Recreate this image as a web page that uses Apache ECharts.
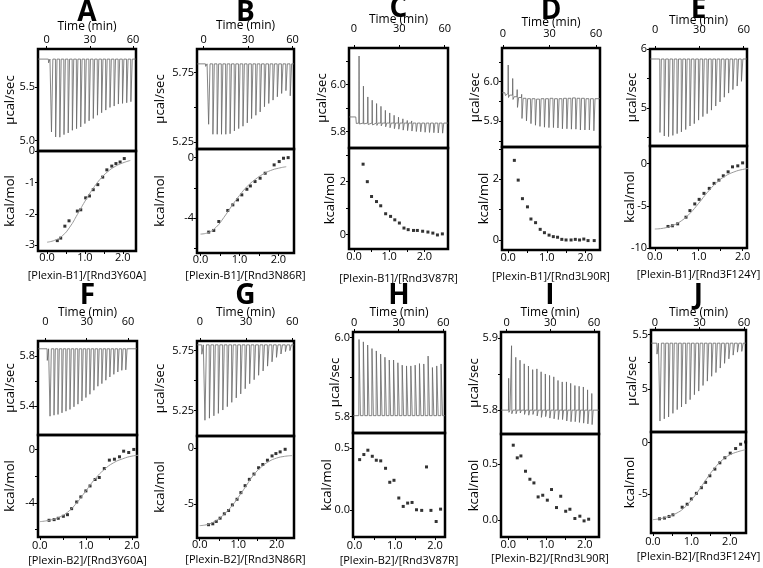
<!DOCTYPE html>
<html>
<head>
<meta charset="utf-8">
<script src="https://cdn.jsdelivr.net/npm/echarts@6/dist/echarts.min.js"></script>
<style>
html, body { margin: 0; padding: 0; background: #fff; }
#chart { width: 763px; height: 568px; }
</style>
</head>
<body>
<div id="chart"></div>
<script>
// ---- data ----
var letters = ['A', 'B', 'C', 'D', 'E', 'F', 'G', 'H', 'I', 'J'];
var ratioNames = ['[Plexin-B1]/[Rnd3Y60A]', '[Plexin-B1]/[Rnd3N86R]', '[Plexin-B1]/[Rnd3V87R]',
    '[Plexin-B1]/[Rnd3L90R]', '[Plexin-B1]/[Rnd3F124Y]', '[Plexin-B2]/[Rnd3Y60A]',
    '[Plexin-B2]/[Rnd3N86R]', '[Plexin-B2]/[Rnd3V87R]', '[Plexin-B2]/[Rnd3L90R]', '[Plexin-B2]/[Rnd3F124Y]'];
var timeTicks = ['0', '30', '60'];
var ratioTicks = ['0.0', '1.0', '2.0'];
var ratioMinor = [0, 0.5, 1, 1.5, 2];

// injection times (min)
var injTimes = [1.2, 3.2, 6.1, 9.0, 11.9, 14.8, 17.7, 20.6, 23.5, 26.4, 29.3, 32.2, 35.1, 38.0, 40.9, 43.8, 46.7, 49.6, 52.5, 55.4, 58.3];

// raw heat traces (ucal/sec): baseline and spike extremes per injection
var aBase = 5.765;
var aPeak = [5.73, 5.079, 5.032, 5.03, 5.054, 5.07, 5.095, 5.11, 5.127, 5.158, 5.184, 5.206, 5.237, 5.26, 5.285, 5.31, 5.323, 5.342, 5.348, 5.354, 5.364];
var bBase = 5.813;
var bPeak = [5.795, 5.378, 5.306, 5.306, 5.306, 5.306, 5.31, 5.33, 5.347, 5.364, 5.388, 5.419, 5.443, 5.467, 5.504, 5.528, 5.552, 5.576, 5.6, 5.62, 5.583];
var cStart = 5.862;
var cBase = 5.836;
var cUp = [5.86, 6.121, 5.993, 5.947, 5.933, 5.919, 5.907, 5.89, 5.879, 5.869, 5.861, 5.854, 5.847, 5.845, 5.843, 5.842, 5.841, 5.84, 5.84, 5.839, 5.839];
var cDown = [5.834, 5.832, 5.832, 5.83, 5.828, 5.826, 5.824, 5.82, 5.816, 5.812, 5.81, 5.806, 5.804, 5.802, 5.8, 5.799, 5.797, 5.796, 5.795, 5.794, 5.793];
var dStart = 5.972;
var dBase = [5.97, 5.966, 5.962, 5.96, 5.958, 5.957, 5.957, 5.956, 5.957, 5.957, 5.958, 5.957, 5.957, 5.958, 5.958, 5.959, 5.958, 5.958, 5.957, 5.957, 5.957];
var dUp = [5.972, 6.042, 6.008, 5.98, 5.968, 5.962, 5.96, 5.958, 5.958, 5.958, 5.96, 5.96, 5.958, 5.96, 5.961, 5.962, 5.96, 5.96, 5.96, 5.959, 5.958];
var dDown = [5.965, 5.96, 5.955, 5.935, 5.907, 5.901, 5.894, 5.89, 5.887, 5.885, 5.884, 5.884, 5.883, 5.881, 5.881, 5.88, 5.88, 5.878, 5.878, 5.878, 5.876];
var eBase = 5.83;
var ePeak = [5.80, 4.58, 4.52, 4.51, 4.53, 4.56, 4.59, 4.63, 4.69, 4.73, 4.79, 4.85, 4.90, 4.96, 5.03, 5.10, 5.18, 5.25, 5.31, 5.37, 5.45];
var fBase = 5.858;
var fPeak = [5.765, 5.32, 5.328, 5.334, 5.347, 5.36, 5.374, 5.395, 5.416, 5.442, 5.469, 5.495, 5.527, 5.559, 5.58, 5.607, 5.633, 5.654, 5.673, 5.686, 5.69];
var gBase = 5.798;
var gPeak = [5.72, 5.171, 5.188, 5.208, 5.228, 5.256, 5.284, 5.32, 5.357, 5.39, 5.433, 5.475, 5.508, 5.545, 5.581, 5.621, 5.657, 5.694, 5.722, 5.742, 5.75];
var hBase = 5.802;
var hUp = [5.805, 5.995, 5.989, 5.981, 5.972, 5.966, 5.958, 5.95, 5.943, 5.943, 5.936, 5.93, 5.928, 5.928, 5.93, 5.934, 5.933, 5.953, 5.924, 5.928, 5.933];
var iBase = 5.8;
var iUp = [5.844, 5.889, 5.873, 5.869, 5.864, 5.861, 5.856, 5.857, 5.853, 5.85, 5.848, 5.846, 5.841, 5.839, 5.839, 5.837, 5.834, 5.833, 5.832, 5.828, 5.823];
var iDown = [5.797, 5.795, 5.795, 5.796, 5.794, 5.793, 5.794, 5.792, 5.79, 5.791, 5.789, 5.788, 5.787, 5.787, 5.785, 5.784, 5.784, 5.783, 5.782, 5.781, 5.78];
var jBase = 5.42;
var jPeak = [5.32, 4.71, 4.73, 4.747, 4.78, 4.814, 4.838, 4.865, 4.905, 4.95, 4.983, 5.034, 5.074, 5.118, 5.152, 5.193, 5.236, 5.277, 5.311, 5.338, 5.345];

// integrated heats (kcal/mol) vs molar ratio
var aX = [0.27, 0.36, 0.47, 0.58, 0.80, 0.89, 1.02, 1.12, 1.22, 1.34, 1.47, 1.58, 1.71, 1.82, 1.93, 2.04];
var aY = [-2.85, -2.77, -2.39, -2.22, -1.91, -1.87, -1.49, -1.43, -1.23, -1.07, -0.83, -0.60, -0.48, -0.40, -0.35, -0.24];
var bX = [0.21, 0.34, 0.47, 0.70, 0.83, 0.95, 1.06, 1.19, 1.28, 1.40, 1.53, 1.66, 1.89, 2.02, 2.13, 2.25];
var bY = [-4.92, -4.81, -4.22, -3.49, -3.12, -2.79, -2.46, -2.09, -1.87, -1.58, -1.36, -1.03, -0.48, -0.26, -0.04, 0.0];
var cX = [0.26, 0.38, 0.50, 0.64, 0.76, 0.90, 1.04, 1.16, 1.29, 1.42, 1.54, 1.69, 1.80, 1.95, 2.10, 2.24, 2.37, 2.51];
var cY = [2.66, 2.0, 1.44, 1.25, 1.09, 0.79, 0.69, 0.56, 0.44, 0.25, 0.19, 0.16, 0.16, 0.13, 0.10, 0.06, -0.01, 0.03];
var dX = [0.16, 0.26, 0.37, 0.50, 0.59, 0.71, 0.83, 0.94, 1.06, 1.17, 1.28, 1.39, 1.50, 1.63, 1.74, 1.85, 1.96, 2.07, 2.23];
var dY = [2.62, 1.97, 1.36, 1.09, 0.69, 0.57, 0.35, 0.24, 0.16, 0.11, 0.09, 0.02, 0.0, 0.0, 0.02, 0.0, 0.03, -0.02, -0.02];
var eX = [0.30, 0.40, 0.52, 0.71, 0.80, 0.91, 1.01, 1.12, 1.24, 1.35, 1.46, 1.56, 1.67, 1.77, 1.89, 2.00];
var eY = [-7.45, -7.37, -7.14, -6.35, -5.57, -4.78, -4.24, -3.53, -2.94, -2.35, -1.96, -1.45, -0.98, -0.39, -0.27, 0.08];
var fX = [0.20, 0.31, 0.40, 0.51, 0.60, 0.69, 0.80, 0.89, 1.00, 1.09, 1.20, 1.29, 1.40, 1.51, 1.62, 1.73, 1.82, 1.93, 2.04];
var fY = [-5.30, -5.25, -5.15, -5.0, -4.88, -4.43, -3.93, -3.55, -3.10, -2.73, -2.25, -2.10, -1.43, -0.80, -0.73, -0.55, -0.13, -0.23, 0.0];
var gX = [0.23, 0.34, 0.43, 0.53, 0.64, 0.75, 0.85, 0.97, 1.07, 1.18, 1.29, 1.41, 1.53, 1.64, 1.76, 1.88, 1.98, 2.09, 2.22];
var gY = [-6.82, -6.74, -6.53, -6.24, -5.85, -5.56, -5.06, -4.56, -3.97, -3.35, -2.79, -2.32, -1.76, -1.47, -1.09, -0.71, -0.5, -0.35, -0.12];
var hX = [0.125, 0.23, 0.33, 0.44, 0.54, 0.65, 0.77, 0.875, 0.98, 1.10, 1.21, 1.32, 1.43, 1.54, 1.67, 1.79, 1.90, 2.03, 2.14];
var hY = [0.405, 0.446, 0.481, 0.432, 0.40, 0.395, 0.335, 0.222, 0.238, 0.095, 0.027, 0.054, 0.059, 0.0, -0.005, 0.346, -0.005, -0.095, 0.005];
var iX = [0.13, 0.235, 0.33, 0.45, 0.565, 0.67, 0.78, 0.90, 1.02, 1.13, 1.26, 1.37, 1.50, 1.61, 1.74, 1.87, 1.98, 2.10];
var iY = [0.67, 0.557, 0.574, 0.4375, 0.366, 0.333, 0.208, 0.223, 0.179, 0.274, 0.113, 0.214, 0.08, 0.098, 0.015, 0.036, -0.006, 0.009];
var jX = [0.17, 0.30, 0.42, 0.52, 0.76, 0.89, 1.00, 1.13, 1.26, 1.37, 1.48, 1.61, 1.74, 1.87, 2.01, 2.15, 2.28, 2.41];
var jY = [-7.42, -7.35, -7.19, -7.03, -6.29, -6.0, -5.48, -4.94, -4.39, -3.87, -3.23, -2.58, -1.97, -1.48, -1.03, -0.58, -0.16, 0.06];

// fitted binding curves
var fitX = [0.0, 0.2, 0.4, 0.6, 0.8, 1.0, 1.2, 1.4, 1.6, 1.8, 2.0, 2.2, 2.4];
var aFit = [-2.9, -2.84, -2.7, -2.42, -2.02, -1.6, -1.22, -0.9, -0.66, -0.49, -0.38, -0.3];
var bFit = [-5.05, -4.95, -4.6, -3.95, -3.2, -2.5, -1.9, -1.45, -1.1, -0.85, -0.7, -0.6];
var eFit = [-7.75, -7.65, -7.35, -6.8, -5.9, -4.7, -3.4, -2.3, -1.5, -1.0, -0.7, -0.55];
var fFit = [-5.4, -5.3, -5.1, -4.7, -4.0, -3.1, -2.2, -1.5, -1.0, -0.7, -0.5, -0.42];
var gFit = [-6.9, -6.8, -6.5, -6.0, -5.3, -4.4, -3.4, -2.4, -1.7, -1.2, -0.9, -0.75, -0.68];
var jFit = [-7.5, -7.4, -7.2, -6.9, -6.4, -5.6, -4.6, -3.5, -2.5, -1.7, -1.2, -0.9, -0.7];

// axis ranges and tick labels
var timeMin = [-6, -4.5, -3.3, -0.65, -3.4, -5.4, -1.8, -0.7, -3.9, -2.7];
var timeMax = [62, 61, 62.2, 62.6, 62.2, 66.6, 61.1, 61.1, 63.4, 61.3];
var topMin = [4.9, 5.2, 5.73, 5.835, 4.35, 5.17, 5.04, 5.758, 5.767, 4.61];
var topMax = [5.86, 5.92, 6.155, 6.085, 6.0, 5.92, 5.83, 6.014, 5.908, 5.54];
var topTicks = [['5.0', '5.5'], ['5.25', '5.75'], ['5.8', '6.0'], ['5.9', '6.0'], ['5', '6'],
    ['5.4', '5.8'], ['5.25', '5.75'], ['5.8', '6.0'], ['5.8', '5.9'], ['5', '5.5']];
var topMinor = [[5.0, 5.5], [5.25, 5.5, 5.75], [5.8, 5.9, 6.0, 6.1], [5.85, 5.9, 5.95, 6.0, 6.05], [4.5, 5, 5.5, 6],
    [5.4, 5.6, 5.8], [5.25, 5.5, 5.75], [5.8, 5.9, 6.0], [5.8, 5.85, 5.9], [5, 5.25, 5.5]];
var ratioMin = [-0.24, -0.09, -0.14, -0.16, -0.11, -0.04, -0.07, -0.04, -0.19, -0.05];
var ratioMax = [2.35, 2.4, 2.67, 2.38, 2.1, 2.11, 2.45, 2.25, 2.37, 2.42];
var botMin = [-3.18, -6.3, -0.54, -0.33, -10, -6.55, -8.0, -0.22, -0.15, -8.8];
var botMax = [0, 0.57, 3.27, 3.06, 2.08, 1.08, 1.06, 0.62, 0.77, 1.03];
var botTicks = [['-3', '-2', '-1', '0'], ['-4', '0'], ['0', '2'], ['0', '2'], ['-10', '-5', '0'],
    ['-4', '0'], ['-5', '0'], ['0.0', '0.5'], ['0.0', '0.5'], ['-5', '0']];
var botMinor = [[-3, -2, -1, 0], [-6, -4, -2, 0], [0, 1, 2, 3], [0, 1, 2, 3], [-10, -5, 0],
    [-6, -4, -2, 0], [-5, 0], [0, 0.5], [0, 0.5], [-5, 0]];

// ---- layout (px) ----
var boxL = [38, 197, 349, 502, 650, 38, 197, 353, 501, 651];
var boxR = [136, 294, 448, 600, 747, 137, 294, 445, 599, 746];
var boxT = [49, 49, 48, 48, 49, 341, 341, 332, 332, 330];
var boxM = [151, 149, 148, 147, 146, 435, 436, 433, 434, 432];
var boxB = [251, 253, 249, 250, 248, 537, 538, 537, 537, 533];
var letterY = [13, 13, 9, 11, 10, 296, 296, 296, 296, 296];
var timeNameY = [26, 25, 19, 22, 20, 312, 312, 312, 312, 312];
var timeLabY = [40, 40, 29, 34, 30, 322, 322, 323, 323, 323];
var ratioLabY = [258, 258, 257, 258, 257, 546, 544, 546, 545, 542];
var ratioNameY = [276, 276, 279, 277, 275, 561, 560, 561, 559, 557];
var topNameX = [10, 160, 322, 475, 632, 10, 160, 335, 474, 632];
var botNameX = [10, 160, 330, 484, 630, 10, 160, 327, 474, 630];

var FONT = 'Open Sans';
var traces = [
    {base: aBase, up: aPeak},
    {base: bBase, up: bPeak},
    {start: cStart, base: cBase, up: cUp, down: cDown},
    {start: dStart, base: dBase, up: dUp, down: dDown},
    {base: eBase, up: ePeak},
    {base: fBase, up: fPeak},
    {base: gBase, up: gPeak},
    {base: hBase, up: hUp},
    {base: iBase, up: iUp, down: iDown},
    {base: jBase, up: jPeak}
];
var points = [[aX, aY], [bX, bY], [cX, cY], [dX, dY], [eX, eY], [fX, fY], [gX, gY], [hX, hY], [iX, iY], [jX, jY]];
var fits = [aFit, bFit, null, null, eFit, fFit, gFit, null, null, jFit];

function baseAt(p, i) {
    return Array.isArray(p.base) ? p.base[i] : p.base;
}

function buildTrace(p, t0, t1) {
    var level = p.start != null ? p.start : baseAt(p, 0);
    var pts = [[t0, level]];
    injTimes.forEach(function (t, i) {
        pts.push([t, level]);
        pts.push([t + 0.15, p.up[i]]);
        if (p.down) pts.push([t + 0.35, p.down[i]]);
        level = baseAt(p, i);
        pts.push([t + 1.1, level]);
    });
    pts.push([t1, level]);
    return pts;
}

function zip(xs, ys) {
    var out = [];
    for (var i = 0; i < Math.min(xs.length, ys.length); i++) out.push([xs[i], ys[i]]);
    return out;
}

function fmt(strs) {
    var vals = strs.map(parseFloat);
    return function (v) {
        for (var i = 0; i < vals.length; i++) {
            if (Math.abs(vals[i] - v) < 1e-9) return strs[i];
        }
        return '';
    };
}

var txt = {color: '#000', fontFamily: FONT};
var noLine = {show: false, onZero: false};
var grids = [], xAxes = [], yAxes = [], series = [], graphics = [];

for (var k = 0; k < 10; k++) {
    var L = boxL[k], W = boxR[k] - boxL[k];
    var gridBase = {left: L, width: W, show: true, borderColor: '#000', borderWidth: 2.5,
        backgroundColor: 'transparent', containLabel: false, outerBoundsMode: 'none'};
    grids.push(Object.assign({}, gridBase, {top: boxT[k], height: boxM[k] - boxT[k]}));
    grids.push(Object.assign({}, gridBase, {top: boxM[k], height: boxB[k] - boxM[k]}));

    var tVals = timeTicks.map(parseFloat);
    xAxes.push({
        type: 'value', gridIndex: 2 * k, position: 'top', min: timeMin[k], max: timeMax[k],
        name: 'Time (min)', nameLocation: 'middle', nameMoveOverlap: false,
        nameGap: boxT[k] - timeNameY[k] - 6.5,
        nameTextStyle: Object.assign({fontSize: 12}, txt),
        axisLine: noLine,
        axisTick: {show: true, length: 3, customValues: tVals, lineStyle: {color: '#000', width: 1}},
        axisLabel: {customValues: tVals, formatter: fmt(timeTicks), margin: Math.max(boxT[k] - timeLabY[k] - 5.5, 1),
            fontSize: 11, color: '#000', fontFamily: FONT},
        splitLine: {show: false}
    });
    var rVals = ratioTicks.map(parseFloat);
    xAxes.push({
        type: 'value', gridIndex: 2 * k + 1, position: 'bottom', min: ratioMin[k], max: ratioMax[k],
        name: ratioNames[k], nameLocation: 'middle', nameMoveOverlap: false,
        nameGap: ratioNameY[k] - 6 - boxB[k],
        nameTextStyle: Object.assign({fontSize: 11}, txt),
        axisLine: noLine,
        axisTick: {show: true, length: 3, customValues: ratioMinor, lineStyle: {color: '#000', width: 1}},
        axisLabel: {customValues: rVals, formatter: fmt(ratioTicks), margin: Math.max(ratioLabY[k] - 5.5 - boxB[k], 1),
            fontSize: 11, color: '#000', fontFamily: FONT},
        splitLine: {show: false}
    });
    yAxes.push({
        type: 'value', gridIndex: 2 * k, position: 'left', min: topMin[k], max: topMax[k],
        name: '\u00b5cal/sec', nameLocation: 'middle', nameMoveOverlap: false,
        nameGap: L - topNameX[k] - 6.5,
        nameTextStyle: Object.assign({fontSize: 13}, txt),
        axisLine: noLine,
        axisTick: {show: true, length: 3, customValues: topMinor[k], lineStyle: {color: '#000', width: 1}},
        axisLabel: {customValues: topTicks[k].map(parseFloat), formatter: fmt(topTicks[k]), margin: 3,
            fontSize: 11, color: '#000', fontFamily: FONT},
        splitLine: {show: false}
    });
    yAxes.push({
        type: 'value', gridIndex: 2 * k + 1, position: 'left', min: botMin[k], max: botMax[k],
        name: 'kcal/mol', nameLocation: 'middle', nameMoveOverlap: false,
        nameGap: L - botNameX[k] - 6.5,
        nameTextStyle: Object.assign({fontSize: 13}, txt),
        axisLine: noLine,
        axisTick: {show: true, length: 3, customValues: botMinor[k], lineStyle: {color: '#000', width: 1}},
        axisLabel: {customValues: botTicks[k].map(parseFloat), formatter: fmt(botTicks[k]), margin: 3,
            fontSize: 11, color: '#000', fontFamily: FONT},
        splitLine: {show: false}
    });

    series.push({
        type: 'line', xAxisIndex: 2 * k, yAxisIndex: 2 * k,
        data: buildTrace(traces[k], timeMin[k], timeMax[k]),
        symbol: 'none', lineStyle: {color: '#666', width: 0.8}, silent: true
    });
    if (fits[k]) {
        series.push({
            type: 'line', xAxisIndex: 2 * k + 1, yAxisIndex: 2 * k + 1,
            data: zip(fitX, fits[k]), smooth: true, symbol: 'none',
            lineStyle: {color: '#9a9a9a', width: 1}, silent: true
        });
    }
    series.push({
        type: 'scatter', xAxisIndex: 2 * k + 1, yAxisIndex: 2 * k + 1,
        data: zip(points[k][0], points[k][1]), symbol: 'rect', symbolSize: 3,
        itemStyle: {color: '#000'}, silent: true
    });

    graphics.push({
        type: 'text', x: (boxL[k] + boxR[k]) / 2, y: letterY[k],
        style: {text: letters[k], font: 'bold 28px "Open Sans"', fill: '#000',
            textAlign: 'center', textVerticalAlign: 'middle'}
    });
}

var chart = echarts.init(document.getElementById('chart'));
chart.setOption({
    animation: false,
    backgroundColor: '#fff',
    grid: grids,
    xAxis: xAxes,
    yAxis: yAxes,
    series: series,
    graphic: graphics
});
</script>
</body>
</html>
